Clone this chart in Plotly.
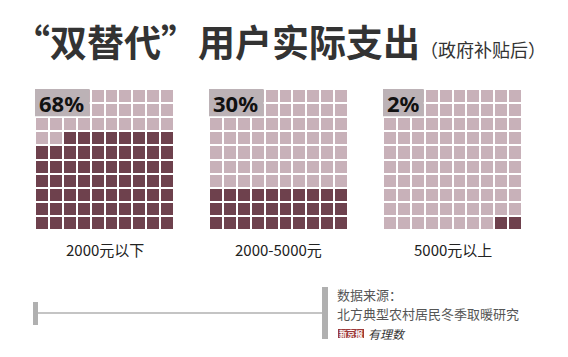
import plotly.graph_objects as go

W, H = 568, 357

# ---- data ----
categories = ["2000元以下", "2000-5000元", "5000元以上"]
shares = [68, 30, 2]
pct_labels = ["68%", "30%", "2%"]
title_main = "“双替代”用户实际支出"
title_sub = "（政府补贴后）"
source_lines = ["数据来源：", "北方典型农村居民冬季取暖研究"]

DARK = "#6e414d"
LIGHT = "#c8b1b9"
BOX = "#bcb2b6"

# panel pixel boxes (left, right, top, bottom)
panels_px = [(35, 174, 89, 230), (209, 348, 89, 230), (383, 522, 89, 230)]
box_cols = [4, 4, 3]

def px(x):
    return x / W

def py(y):
    return 1 - y / H

fig = go.Figure()

for i, (share, (l, r, t, b)) in enumerate(zip(shares, panels_px)):
    # build 10x10 grid, fill from bottom-right, right-to-left, bottom-to-top
    z = [[0] * 10 for _ in range(10)]
    n = share
    for row in range(10):          # row 0 = bottom
        for col in range(9, -1, -1):
            if n > 0:
                z[row][col] = 1
                n -= 1
    xa = "x" if i == 0 else f"x{i+1}"
    ya = "y" if i == 0 else f"y{i+1}"
    fig.add_trace(go.Heatmap(
        z=z, x=list(range(10)), y=list(range(10)),
        colorscale=[[0, LIGHT], [0.5, LIGHT], [0.5, DARK], [1, DARK]],
        zmin=0, zmax=1, showscale=False, xgap=2, ygap=2,
        hoverinfo="skip", xaxis=xa, yaxis=ya,
    ))
    axkey = "xaxis" if i == 0 else f"xaxis{i+1}"
    aykey = "yaxis" if i == 0 else f"yaxis{i+1}"
    fig.layout[axkey] = dict(domain=[px(l), px(r)], range=[-0.5, 9.5], visible=False,
                             anchor=ya, fixedrange=True)
    fig.layout[aykey] = dict(domain=[py(b), py(t)], range=[-0.5, 9.5], visible=False,
                             anchor=xa, fixedrange=True)
    # label box
    fig.add_shape(type="rect", xref=xa, yref=ya, x0=-0.5, x1=box_cols[i] - 0.5 - 0.07,
                  y0=7.5 + 0.07, y1=9.5, fillcolor=BOX, line_width=0, layer="above")
    fig.add_annotation(xref=xa, yref=ya, x=-0.35, y=8.5, text=f"<b>{pct_labels[i]}</b>",
                       showarrow=False, xanchor="left", yanchor="middle",
                       font=dict(family="Noto Sans, Open Sans", size=22, color="#111"))
    # category label
    fig.add_annotation(xref="paper", yref="paper", x=px((l + r) / 2), y=py(250),
                       text=categories[i], showarrow=False, xanchor="center", yanchor="middle",
                       font=dict(family="Noto Sans CJK SC", size=15, color="#222"))

# title
fig.add_annotation(xref="paper", yref="paper", x=px(11), y=py(41),
                   text=f"<b>{title_main}</b><span style='font-size:18px'>{title_sub}</span>",
                   showarrow=False, xanchor="left", yanchor="middle",
                   font=dict(family="Noto Sans CJK SC", size=37, color="#333"))

# bottom decoration
GRAY = "#b0b0b0"
fig.add_shape(type="line", xref="paper", yref="paper", x0=px(36), x1=px(323),
              y0=py(313), y1=py(313), line=dict(color=GRAY, width=1.5))
fig.add_shape(type="rect", xref="paper", yref="paper", x0=px(33), x1=px(38),
              y0=py(325), y1=py(302), fillcolor=GRAY, line_width=0)
fig.add_shape(type="rect", xref="paper", yref="paper", x0=px(322), x1=px(328),
              y0=py(339), y1=py(287), fillcolor=GRAY, line_width=0)
fig.add_annotation(xref="paper", yref="paper", x=px(335), y=py(294), text=source_lines[0],
                   showarrow=False, xanchor="left", yanchor="middle",
                   font=dict(family="Noto Sans CJK SC", size=13, color="#555"))
fig.add_annotation(xref="paper", yref="paper", x=px(335), y=py(313), text=source_lines[1],
                   showarrow=False, xanchor="left", yanchor="middle",
                   font=dict(family="Noto Sans CJK SC", size=13, color="#555"))
# logo
fig.add_shape(type="rect", xref="paper", yref="paper", x0=px(338), x1=px(364),
              y0=py(338), y1=py(329), fillcolor="#9c3a3a", line_width=0)
fig.add_annotation(xref="paper", yref="paper", x=px(351), y=py(333.5), text="<b>新京报</b>",
                   showarrow=False, xanchor="center", yanchor="middle",
                   font=dict(family="Noto Sans CJK SC", size=8, color="white"))
fig.add_annotation(xref="paper", yref="paper", x=px(366), y=py(333), text="<i>有理数</i>",
                   showarrow=False, xanchor="left", yanchor="middle",
                   font=dict(family="Noto Sans CJK SC", size=12, color="#333"))

fig.update_layout(width=W, height=H, margin=dict(l=0, r=0, t=0, b=0),
                  paper_bgcolor="white", plot_bgcolor="white", showlegend=False)

fig.write_html("out.html", config={"displayModeBar": False},
               post_script="document.body.style.margin='0';")
